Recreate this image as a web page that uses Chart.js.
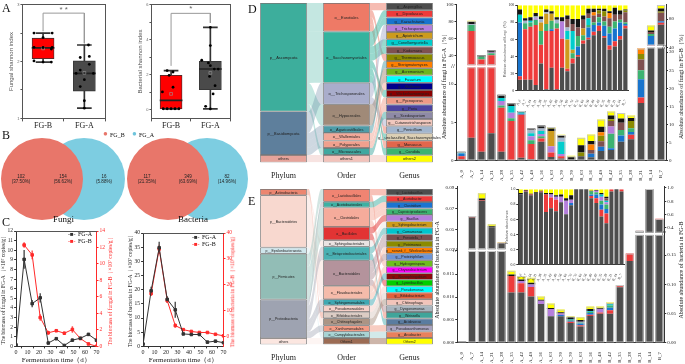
<!DOCTYPE html>
<html><head><meta charset="utf-8">
<script src="https://cdn.jsdelivr.net/npm/chart.js@4.4.1/dist/chart.umd.min.js"></script>
<style>
html,body{margin:0;padding:0;background:#fff;}
body{width:685px;height:364px;position:relative;overflow:hidden;font-family:"Liberation Serif",serif;}
canvas{position:absolute;}
.t{position:absolute;white-space:nowrap;line-height:1;color:#111;}
</style></head><body>
<script>
// ---------------- DATA ----------------
// Panel A
const boxGroups=['FG-B','FG-A'];
const fungalShannon=[[2.50,2.50,2.42,2.25,2.25,2.25,2.22,2.01,1.99,1.99],[2.29,2.09,2.07,1.95,1.85,1.79,1.79,1.68,1.56,1.31,1.18]];
const fungalJitter=[[-0.22,0.22,0,-0.22,0,0.22,0.2,-0.22,0,0.2],[0.1,0.12,-0.1,0.12,-0.1,-0.2,0.22,0,-0.1,0,0]];
const fungalBox=[[1.99,2.05,2.24,2.41,2.50],[1.18,1.48,1.79,2.01,2.29]];
const fungalMean=[2.23,1.80];
const bacterialShannon=[[2.23,2.15,1.96,1.28,1.01,0.05,0.05,0.05,0.05,0.05],[4.70,3.66,2.82,2.67,2.51,2.32,2.32,1.90,1.37,0.90,0.19,0.04]];
const bacterialJitter=[[-0.1,0.05,-0.05,0.05,-0.22,-0.2,-0.1,0,0.1,0.2],[0,0,-0.22,-0.05,0,0.1,0.2,-0.02,0.12,0.07,-0.12,0]];
const bacterialBox=[[0.04,0.04,0.53,1.96,2.23],[0.04,1.14,2.32,2.76,4.70]];
const bacterialMean=[0.9,2.1];
// Panel B
const vennSets=['FG_B','FG_A'];
const fungiVenn=[102,154,16];
const fungiVennPct=['37.50%','56.62%','5.88%'];
const bacteriaVenn=[117,349,82];
const bacteriaVennPct=['21.35%','63.69%','14.96%'];
// Panel C
const days=[0,7,14,21,28,35,42,49,56,63,70];
const daysB=[7,14,21,28,35,42,49,56,63,70];
const fungalFGA=[0.15,9.05,4.45,5.05,0.35,0.8,0.1,0.65,0.85,1.25,0.65];
const fungalFGAErr=[0.05,0.95,0.35,0.45,0.1,0.05,0.05,0.1,0.1,0.1,0.1];
const fungalFGB=[12.3,11.1,3.5,1.65,1.9,1.6,2.05,0.95,0.3,0.02];
const fungalFGBErr=[0.3,0.5,0.35,0.2,0.1,0.15,0.35,0.1,0.05,0.02];
const bacteriaFGA=[0.8,19.6,34.8,16.6,12.9,4.4,4.2,4.2,1.5,1.85,1.3];
const bacteriaFGAErr=[0.2,1.3,2.0,1.0,2.7,0.3,0.3,0.3,0.2,0.2,0.2];
const bacteriaFGB=[16.5,33.8,13.8,4.1,2.5,1.8,1.4,1.4,0.7,0.1];
const bacteriaFGBErr=[0.8,1.5,0.8,0.7,0.2,0.2,0.2,0.1,0.1,0.1];
// Panel D sankey
const fungiPhyla=['p__Ascomycota','p__Basidiomycota','others'];
const fungiPhylaSize=[338,136,23];
const fungiPhylaColors=['#3DAE9C','#5E7F9C','#E6A39A'];
const fungiOrders=['o__Eurotiales','o__Saccharomycetales','o__Trichosporonales','o__Hypocreales','o__Agaricostilbales','o__Wallemiales','o__Polyporales','o__Microascales','others1'];
const fungiOrderSize=[89,160,67,66,23,24,23,22,23];
const fungiOrderParent=[0,0,1,0,1,1,1,0,2];
const fungiOrderColors=['#EE7A66','#34B39E','#A9ADCB','#A08A78','#4E9CA8','#F2A898','#F0A08E','#3FA8A0','#F2C2BA'];
const fungiGenera=['g__Aspergillus','g__Dipodascus','g__Kazachstania','g__Trichosporon','g__Apiotrichum','g__Conellomycetella','g__Kodamaea','g__Thermoascus','g__Sterigmatomyces','g__Acremonium','g__Fusarium','g__Wallemia','g__Wickerhamomyces','g__Pycnoporus','g__Poria','g__Scedosporium','g__Cutaneotrichosporon','g__Penicillium','g__unclassified_Saccharomycetales','g__Monascus','g__Candida','others2'];
const fungiGenusSize=[1,1,1,1,1,1,1,1,1,1,1,1,1,1,1,1,1,1,1,1,1,1];
const fungiGenusParent=[0,1,1,2,2,1,1,0,4,3,3,5,1,6,6,7,2,0,1,0,1,8];
const fungiGenusColors=['#4D4D4D','#EE3B3B','#1874CD','#B57EDC','#CD9B1D','#00CDCD','#7F5050','#8B8B00','#FF7F00','#6EB41E','#00FFFF','#00008B','#8B0000','#EE9A86','#4A44A0','#8E8AA6','#F2C8BE','#A2B5CD','#DCCFB4','#E2664C','#3CB371','#FFFF00'];
// Panel D bars (absolute abundance, %)
const sampleLabels=['A_0','A_7','A_14','A_21','A_28','A_35','A_42','A_49','A_56','A_63','A_70','B_70','B_63','B_56','B_49','B_42','B_35','B_28','B_21','B_14','B_7'];
const fungiBarColors=['#4D4D4D','#EE3B3B','#1874CD','#3CB371','#B57EDC','#CD9B1D','#00CDCD','#A2B5CD','#7F5050','#8B8B00','#FF7F00','#141414','#FFFF00'];
const fAspergillus=[0.2,3,1.2,3.6,1.2,0.1,0.4,0.2,2.5,0.5,0.3, 0.5,1.3,1,2.7,3,5.3,6,16,41,72];
const fDipodascus=[0.4,66,33.8,36.4,5.7,5.1,5.6,2.0,0.4,0.6,0.3, 0,0,0,0,0,0,1.2,1.5,2,3];
const fKazachstania=[0.35,0,0,0,0,0,0.15,0,0,0,0, 0,0,1,1.2,0.5,1.7,0.8,5,13,2];
const fCandida=[0,7,3.5,2.5,0.3,0.35,0,0.5,0.3,0,0, 0,0,0,0,4,1.5,1,2.5,3,0];
const fTrichosporon=[0,0,0,1,0.6,0.7,0,0.5,0.3,0.8,0.3, 0,0,0,0,2,0,0,0,0,0];
const fApiotrichum=[0,0,0,0,0,0,0,0,0,2.0,0, 0,0,0,0,0,0,0,0,0,0];
const fConellomycetella=[0.1,0,0,0,0.4,0.9,0.15,0.4,0.4,0,1.6, 0,0,0,0,0,0,0,0,0,0];
const fPenicillium=[0,1,0,0,0,0,0,0.4,0.3,0,0.5, 0,0,0,0,0,0,0,0,0,0];
const fKodamaea=[0,0,0,0,0,0,0,0,0,0,0, 0,0,1,1.5,1.5,2,0,3,3,12];
const fThermoascus=[0,0,0,0,0,0,0,0,0,0,0, 0,1,0,1.5,0.5,0,2,1.5,0,2];
const fSterigmatomyces=[0,0,0,0,0,0,0,0,0,0,0, 0,0,1.5,1,0,0,0,1.5,0,0];
const fDark=[0.15,3,1.5,2.5,0.4,0.35,0.2,0.2,0.4,0.3,0.3, 0.5,2,1,1.5,1,1.2,0.8,0,2,4];
const fOthers2=[0,1,0,0,0,0,0,0,0,0.2,0.1, 0.4,2.1,1.8,2,1.1,1.5,0.7,0,7,5];
const fungiLeftLoTicks=[0,5,10], fungiLeftHiTicks=[40,60,80,100];
const fungiRightLoTicks=[0,5,10,15,20,25,30], fungiRightHiTicks=[40,60,80,100];
// Panel D inset (relative abundance, %)
const riGray=[13,13,13,7,32,2,27,2,27,23,32, 40,55,60,65,70,62,48,52,60,73];
const riRed=[4,59,62,70,22,68,43,71,34,3,6, 2,4,2,4,6,2,5,6,4,3];
const riBlue=[63,0,0,0,0,0,2,0,0,0,0, 10,0,12,8,4,12,14,15,16,2];
const riGreen=[0,7,5,6,16,8,10,6,0,0,6, 12,6,3,3,6,5,8,8,3,2];
const riPurple=[0,0,0,2,0,0,0,0,20,0,0, 0,0,0,0,0,0,0,0,0,0];
const riGold=[0,0,0,0,10,12,8,0,0,34,4, 0,8,0,0,0,0,0,0,0,0];
const riCyan=[9,0,2,0,0,0,0,0,0,10,22, 0,0,8,0,0,0,0,0,0,0];
const riSteel=[0,3,0,2,4,2,0,4,0,4,0, 0,0,0,0,0,0,0,0,0,0];
const riBrown=[0,0,0,0,0,0,0,0,0,10,8, 10,10,5,8,4,6,10,8,6,12];
const riOlive=[0,0,0,0,0,0,0,0,0,0,0, 0,0,0,0,4,6,0,0,0,2];
const riOrange=[0,0,0,0,0,0,0,0,0,0,0, 0,0,0,4,0,0,6,0,0,0];
const riDark=[6,3,4,4,3,3,3,3,5,4,6, 10,5,6,4,2,3,2,8,5,1];
const riYellow=[5,15,14,9,13,5,7,14,14,12,16, 16,12,4,4,4,4,7,3,6,5];
// Panel E sankey
const bacPhyla=['p__Actinobacteria','p__Bacteroidetes','p__Epsilonbacteraeota','p__Firmicutes','p__Proteobacteria','others'];
const bacPhylaSize=[20,165,20,145,122,20];
const bacPhylaColors=['#EC8670','#F8D8CF','#CFE6EC','#92BDB6','#9EA3B1','#FBE6E0'];
const bacOrders=['o__Lactobacillales','o__Acetobacterales','o__Clostridiales','o__Bacillales','o__Sphingobacteriales','o__Betaproteobacteriales','o__Bacteroidales','o__Flavobacteriales','o__Sphingomonadales','o__Pseudomonadales','o__Bifidobacteriales','o__Chitinophagales','o__Xanthomonadales','o__Campylobacterales','Others1'];
const bacOrderSize=[40,18,61,42,20,43,80,42,20,20,20,22,20,20,20];
const bacOrderParent=[3,4,3,3,1,4,1,1,4,4,0,1,4,2,5];
const bacOrderColors=['#F08472','#3DB0A2','#F5AB9B','#E23434','#EAE3E2','#49B0B2','#B4939C','#F5BBAA','#3FA8B2','#F6D0C8','#DCCCC4','#AC9484','#F29C86','#A6D3D3','#9C6C54'];
const bacGenera=['g__Lactobacillus','g__Acetobacter','g__Clostridium','g__Caproiciproducens','g__Bacillus','g__Sphingobacterium','g__Comamonas','g__Prevotella_7','g__Petrimonas','g__norank_f__Weeksellaceae','g__Proteiniphilum','g__Hydrogenispora','g__Chryseobacterium','g__Novosphingobium','g__Lysinibacillus','g__Pseudomonas','g__Bifidobacterium','g__Chitinophaga','g__Dysgonomonas','g__Weissella','g__Acidovorax','g__Pseudoxanthomonas','g__Arcobacter','Others2'];
const bacGenusSize=[1,1,1,1,1,1,1,1,1,1,1,1,1,1,1,1,1,1,1,1,1,1,1,1];
const bacGenusParent=[0,1,2,2,3,4,5,6,6,7,6,2,7,8,3,9,10,11,6,0,5,12,13,14];
const bacGenusColors=['#4D4D4D','#EE3B3B','#1C74D0','#3CB371','#B57EDC','#CD9B1D','#00C5CD','#7B4F4F','#8B8B00','#FF7F00','#6B93D6','#6EBE1E','#FF00FF','#8B0A0A','#00CD00','#00FFFF','#E0603C','#F2C4BA','#A8B4BE','#3FA59A','#5A7CA0','#A9A3C0','#E9805C','#FFFF00'];
// Panel E bars (absolute abundance)
const bacBarColors=['#4D4D4D','#EE3B3B','#1C74D0','#3CB371','#B57EDC','#00C5CD','#7B4F4F','#141414','#FFFF00'];
const bLactobacillus=[0.0003,0.0615,0.0775,0.052,0.0365,0.011,0.011,0.0101,0.0085,0.0058,0.0058, 0.034,0.028,0.046,0.05,0.05,0.095,0.14,0.345,0.975,0.52];
const bAcetobacter=[0,0.0005,0.0005,0,0.0005,0.0036,0.002,0.0021,0,0,0, 0.002,0.002,0.002,0.002,0.006,0.002,0.013,0,0,0.015];
const bClostridium=[0,0,0,0,0,0,0,0,0,0,0.0003, 0.002,0.003,0.003,0,0.004,0,0,0,0,0];
const bCaproiciproducens=[0,0,0,0,0,0,0,0,0,0,0, 0.001,0.002,0.002,0,0.004,0,0,0,0,0];
const bBacillus=[0,0,0,0,0,0,0.0005,0.0005,0.0007,0.0016,0.0003, 0,0.001,0,0.006,0,0,0,0,0,0];
const bComamonas=[0,0,0,0,0,0,0,0,0,0,0, 0.001,0,0.001,0,0.002,0,0,0,0,0];
const bPrevotella=[0,0,0,0,0,0,0,0,0,0,0, 0,0,0,0,0,0,0,0.01,0.005,0];
const bDark=[0,0.001,0.002,0.001,0,0.0003,0.0003,0.0004,0.0002,0.0002,0.0003, 0.004,0.003,0.004,0.001,0.001,0.001,0,0,0.005,0];
const bOthers2=[0,0,0.005,0.002,0.0006,0.0008,0.0008,0.0011,0.0007,0.001,0.0006, 0.0015,0.005,0.004,0.003,0.002,0.001,0,0,0,0];
const bacLeftLoTicks=[0,0.005,0.010,0.015], bacLeftHiTicks=[0.03,0.04,0.05,0.06,0.07,0.08,0.09];
const bacRightLoTicks=[0,0.05,0.10,0.15], bacRightHiTicks=[0.4,0.6,0.8,1.0];
// Panel E inset (relative abundance)
const rbGray=[0.93,0.97,0.92,0.95,0.96,0.70,0.75,0.71,0.83,0.67,0.79, 0.99,0.99,0.99,0.88,0.82,0.64,0.55,0.97,0.99,0.97];
const rbRed=[0,0.01,0.01,0,0.01,0.23,0.14,0.15,0,0,0, 0,0,0,0.03,0.06,0.09,0.13,0.03,0,0.03];
const rbBlue=[0,0,0,0,0,0,0,0,0,0,0.03, 0,0,0,0.02,0.05,0.07,0.06,0,0,0];
const rbGreen=[0,0,0,0,0,0,0,0,0,0,0, 0,0,0,0.04,0.03,0.05,0.06,0,0,0];
const rbPurple=[0,0,0,0,0,0,0.04,0.04,0.07,0.18,0.04, 0,0,0,0,0.02,0.05,0.03,0,0,0];
const rbCyan=[0,0,0,0,0,0,0,0,0,0,0, 0,0,0,0,0,0.03,0.02,0,0,0];
const rbBrown=[0,0,0,0,0,0,0,0,0,0,0, 0,0,0,0,0,0,0.03,0,0,0];
const rbDark=[0.02,0.01,0.01,0.01,0.01,0.02,0.02,0.02,0.03,0.03,0.06, 0.01,0.01,0.01,0.01,0.01,0.02,0.02,0,0.01,0];
const rbYellow=[0.05,0.01,0.06,0.04,0.02,0.05,0.05,0.08,0.07,0.12,0.08, 0,0,0,0.02,0.01,0.05,0.10,0,0,0];

// ---------------- HELPERS ----------------
Chart.defaults.animation=false;
Chart.defaults.responsive=false;
Chart.defaults.maintainAspectRatio=false;
Chart.defaults.font.family='Liberation Sans';
Chart.defaults.color='#222';
Chart.defaults.plugins.legend.display=false;
Chart.defaults.plugins.tooltip.enabled=false;
Chart.defaults.events=[];

function mk(l,t,w,h,bg){const c=document.createElement('canvas');c.width=w;c.height=h;Object.assign(c.style,{left:l+'px',top:t+'px',width:w+'px',height:h+'px'});if(bg)c.style.background=bg;document.body.appendChild(c);return c.getContext('2d');}
function txt(s,l,t,css){const d=document.createElement('div');d.className='t';d.textContent=s;d.style.left=l+'px';d.style.top=t+'px';if(css)d.style.cssText+=css;document.body.appendChild(d);return d;}
function rtxt(s,cx,cy,css){const d=txt(s,cx,cy,css);d.style.transform='translate(-50%,-50%) rotate(-90deg)';return d;}
function annot(list){return {id:'annot',afterDatasetsDraw(chart){const c=chart.ctx;list.forEach(a=>{const xs=chart.scales[a.xs||'x'],ys=chart.scales[a.ys||'y'];c.save();c.font=a.font;c.fillStyle=a.color||'#222';c.textAlign='center';c.textBaseline='middle';const lines=a.text.split('\n');const px=xs.getPixelForValue(a.x),py=ys.getPixelForValue(a.y);lines.forEach((ln,i)=>c.fillText(ln,px,py+(i-(lines.length-1)/2)*a.lh));c.restore();});}};}
const barLabels={id:'barLabels',afterDatasetsDraw(chart){const c=chart.ctx;chart.data.datasets.forEach((ds,i)=>{if(!ds.barLabels)return;const meta=chart.getDatasetMeta(i);meta.data.forEach((el,j)=>{const t=ds.barLabels[j];if(!t)return;c.save();c.font=ds.labelFont;c.fillStyle='#222';c.textAlign='center';c.textBaseline='middle';c.fillText(t,el.x,(el.y+el.base)/2+0.5);c.restore();});});}};
function fixedTicks(vals){return s=>{s.ticks=vals.map(v=>({value:v}));};}
const frameX={type:'linear',position:'top',display:true,ticks:{display:false},grid:{display:false},border:{display:true,color:'#555'},afterFit:s=>{s.height=0;}};
const frameY={type:'linear',position:'right',display:true,ticks:{display:false},grid:{display:false},border:{display:true,color:'#555'},afterFit:s=>{s.width=0;}};

// ---------------- PANEL A ----------------
function boxChart(ctx,vals,jit,box,mean,yr,yTicks,yLab,title,sig,pad){
  const pts=[];vals.forEach((g,gi)=>g.forEach((v,k)=>pts.push({x:gi+jit[gi][k],y:v})));
  const h=(yr[1]-yr[0])*0.0045; // half thickness of cap/median strokes, in value units
  return new Chart(ctx,{type:'bar',data:{datasets:[
    {type:'line',data:[{x:0,y:sig.l},{x:0,y:sig.top},{x:1,y:sig.top},{x:1,y:sig.r}],borderColor:'#999',borderWidth:1,pointRadius:0,order:7},
    {data:box.map((b,i)=>({x:i,y:[b[0],b[4]]})),backgroundColor:'#333',barThickness:1,grouped:false,order:6},
    {data:box.map((b,i)=>({x:i,y:[b[1],b[3]]})),backgroundColor:['#FF0000','#4A4A4A'],borderColor:'#333',borderWidth:0.8,borderSkipped:false,barThickness:22,grouped:false,order:5},
    {data:box.flatMap((b,i)=>[{x:i,y:[b[0]-h,b[0]+h]},{x:i,y:[b[4]-h,b[4]+h]}]),backgroundColor:'#333',barThickness:14,grouped:false,order:4},
    {data:box.map((b,i)=>({x:i,y:[b[2]-h,b[2]+h]})),backgroundColor:'#222',barThickness:22,grouped:false,order:3},
    {type:'scatter',data:mean.map((m,i)=>({x:i,y:m})),pointStyle:'rect',pointRadius:2,borderColor:'#999',backgroundColor:'rgba(0,0,0,0)',borderWidth:0.6,order:2},
    {type:'scatter',data:pts,pointRadius:1.4,backgroundColor:'#000',borderWidth:0,order:1}
  ]},options:{layout:{padding:pad},scales:{
    x:{type:'linear',offset:false,min:-0.5,max:1.5,afterBuildTicks:fixedTicks([0,1]),ticks:{callback:v=>boxGroups[v],font:{family:'Liberation Serif',size:8},color:'#222',padding:0},grid:{display:true,drawOnChartArea:false,tickLength:3,color:'#555'},border:{color:'#555'}},
    y:{min:yr[0],max:yr[1],afterBuildTicks:fixedTicks(yTicks),ticks:{font:{size:4},color:'#666',padding:1,callback:v=>yLab.includes(v)?String(v):''},grid:{drawOnChartArea:false,tickLength:2,color:'#555'},border:{color:'#555'},title:{display:true,text:title,font:{size:6},color:'#555',padding:1}},
    x2:frameX,y2:frameY
  }},plugins:[annot([{x:0.5,y:sig.ty,text:sig.text,font:'8px Liberation Sans',color:'#666',lh:0}])]});
}
boxChart(mk(0,0,115,131),fungalShannon,fungalJitter,fungalBox,fungalMean,[1,3],[1,1.5,2,2.5,3],[1,2,3],'Fungal shannon index',{l:2.53,top:2.85,r:2.32,ty:2.91,text:'* *'},{left:7,right:10,top:3,bottom:0});
boxChart(mk(115,0,120,131),bacterialShannon,bacterialJitter,bacterialBox,bacterialMean,[-0.5,6],[0,1,2,3,4,5,6],[0,2,4,6],'Bacterial shannon index',{l:2.5,top:5.5,r:4.95,ty:5.75,text:'*'},{left:21,right:5,top:3,bottom:0});

// ---------------- PANEL B ----------------
(function(){
  const R=41; // bubble radius in px; canvas enlarged by R so the chart area is the intended 250x100 box
  const ctx=mk(-R,128-R,250+2*R,100+2*R);
  const red='rgb(232,118,106)',blue='rgba(26,167,202,0.57)';
  const lab=(n,p)=>n+'\n('+p+')';
  new Chart(ctx,{type:'bubble',data:{datasets:[
    {data:[{x:42,y:51,r:R},{x:168,y:51,r:R}],backgroundColor:red,borderWidth:0},
    {data:[{x:84,y:51,r:R},{x:207,y:51,r:R}],backgroundColor:blue,borderWidth:0}
  ]},options:{layout:{padding:0},scales:{x:{display:false,min:0,max:250},y:{display:false,min:0,max:100,reverse:true}}},
  plugins:[annot([
    {x:21,y:51,text:lab(fungiVenn[0],fungiVennPct[0]),font:'4.5px Liberation Sans',lh:5},
    {x:63,y:51,text:lab(fungiVenn[1],fungiVennPct[1]),font:'4.5px Liberation Sans',lh:5},
    {x:104,y:51,text:lab(fungiVenn[2],fungiVennPct[2]),font:'4.5px Liberation Sans',lh:5},
    {x:147,y:51,text:lab(bacteriaVenn[0],bacteriaVennPct[0]),font:'4.5px Liberation Sans',lh:5},
    {x:188,y:51,text:lab(bacteriaVenn[1],bacteriaVennPct[1]),font:'4.5px Liberation Sans',lh:5},
    {x:227,y:51,text:lab(bacteriaVenn[2],bacteriaVennPct[2]),font:'4.5px Liberation Sans',lh:5}
  ])]});
  txt('Fungi',53,215,'font-size:9px;');
  txt('Bacteria',178,215,'font-size:9px;');
  txt('●',103,130,'font-size:8px;color:rgb(232,118,106);');
  txt(vennSets[0],110,132,'font-size:6px;');
  txt('●',132,130,'font-size:8px;color:rgb(110,196,220);');
  txt(vennSets[1],139,132,'font-size:6px;');
})();

// ---------------- PANEL C ----------------
function lineChart(ctx,a,aErr,b,bErr,yA,yAt,yB,yBt,title,pad){
  const ptsA=days.map((d,i)=>({x:d,y:a[i]})),ptsB=daysB.map((d,i)=>({x:d,y:b[i]}));
  return new Chart(ctx,{type:'line',data:{datasets:[
    {label:'FG-A',data:ptsA,borderColor:'#333',backgroundColor:'#333',pointStyle:'rect',pointRadius:1.8,borderWidth:1,yAxisID:'y',order:1},
    {label:'FG-B',data:ptsB,borderColor:'#FF2A2A',backgroundColor:'#FF2A2A',pointStyle:'rect',pointRadius:1.8,borderWidth:1,yAxisID:'y2',order:2},
    {type:'bar',data:days.map((d,i)=>({x:d,y:[a[i]-aErr[i],a[i]+aErr[i]]})),backgroundColor:'#555',barThickness:0.8,grouped:false,yAxisID:'y',order:3},
    {type:'bar',data:daysB.map((d,i)=>({x:d,y:[b[i]-bErr[i],b[i]+bErr[i]]})),backgroundColor:'#FF5555',barThickness:0.8,grouped:false,yAxisID:'y2',order:4}
  ]},options:{layout:{padding:pad},scales:{
    x:{type:'linear',offset:false,min:0,max:70,ticks:{stepSize:10,font:{family:'Liberation Serif',size:6},padding:0,maxRotation:0},grid:{drawOnChartArea:false,tickLength:2,color:'#333'},border:{color:'#333'},title:{display:true,text:'Fermentation time（d）',font:{family:'Liberation Serif',size:7},padding:0}},
    y:{min:yA[0],max:yA[1],afterBuildTicks:fixedTicks(yAt),ticks:{font:{family:'Liberation Serif',size:5.5},padding:1},grid:{drawOnChartArea:false,tickLength:2,color:'#333'},border:{color:'#333'},title:{display:true,text:title,font:{family:'Liberation Serif',size:5.5},padding:0}},
    y2:{position:'right',min:yB[0],max:yB[1],afterBuildTicks:fixedTicks(yBt),ticks:{font:{family:'Liberation Serif',size:5.5},color:'#FF2A2A',padding:1},grid:{drawOnChartArea:false,tickLength:2,color:'#FF2A2A'},border:{color:'#FF2A2A'}},
    x2:frameX
  }}});
}
lineChart(mk(0,226,117,138),fungalFGA,fungalFGAErr,fungalFGB,fungalFGBErr,[0,12],[0,1,2,3,4,5,6,7,8,9,10,11,12],[0,14],[0,2,4,6,8,10,12,14],'The biomass of fungal in FG-A（×10⁷ copies/g）',{left:0,right:11,top:4,bottom:0});
rtxt('The biomass of fungal in FG-B（×10⁷ copies/g）',111,290,'font-size:5.5px;color:#FF2A2A;');
lineChart(mk(117,226,120,138),bacteriaFGA,bacteriaFGAErr,bacteriaFGB,bacteriaFGBErr,[0,40],[0,5,10,15,20,25,30,35,40],[-4,40],[0,10,20,30,40],'The biomass of bacteria in FG-A（×10⁷ copies/g）',{left:10,right:4,top:7,bottom:0});
rtxt('The biomass of bacteria in FG-B（×10⁷ copies/g）',233,290,'font-size:5.5px;color:#FF2A2A;');
function legendC(x,y){
  txt('-■-',x,y,'font-size:6px;color:#333;');txt('FG-A',x+10,y,'font-size:6px;');
  txt('-■-',x,y+7,'font-size:6px;color:#FF2A2A;');txt('FG-B',x+10,y+7,'font-size:6px;');
}
legendC(68,231);legendC(192,234);

// ---------------- SANKEY ----------------
function hexA(col,a){const c=col.replace('#','');return 'rgba('+parseInt(c.substr(0,2),16)+','+parseInt(c.substr(2,2),16)+','+parseInt(c.substr(4,2),16)+','+a+')';}
function sankey(ctx,cols,parents,linkAlpha,labelFont){
  const norm=cols.map(c=>{const s=c.sizes.reduce((a,b)=>a+b,0);return c.sizes.map(v=>v/s);});
  const spans=norm.map(n=>{let a=0;return n.map(v=>{const r=[a,a+v];a+=v;return r;});});
  const barPct=0.74,hw=barPct/2,e=0.03;const ds=[];
  parents.forEach((par,k)=>{
    const sc=k,tc=k+1;
    const links=par.map((p,j)=>({s:p,t:j,w:norm[tc][j]}));
    cols[sc].sizes.forEach((_,i)=>{
      const out=links.filter(l=>l.s===i).sort((a,b)=>a.t-b.t);
      const tot=out.reduce((a,l)=>a+l.w,0);let y=spans[sc][i][0];const h=spans[sc][i][1]-y;
      out.forEach(l=>{const d=h*l.w/tot;l.s0=y;l.s1=y+d;y+=d;});
    });
    const xa=sc+0.5+hw,xb=tc+0.5-hw;
    links.forEach(l=>{
      const t0=spans[tc][l.t][0],t1=spans[tc][l.t][1];
      ds.push({type:'line',data:[{x:xa,y:l.s0},{x:xa+e,y:l.s0},{x:xb-e,y:t0},{x:xb,y:t0}],borderWidth:0,pointRadius:0,cubicInterpolationMode:'monotone',fill:false,order:10});
      ds.push({type:'line',data:[{x:xa,y:l.s1},{x:xa+e,y:l.s1},{x:xb-e,y:t1},{x:xb,y:t1}],borderWidth:0,pointRadius:0,cubicInterpolationMode:'monotone',fill:'-1',backgroundColor:hexA(cols[sc].colors[l.s],linkAlpha[k]),order:10});
    });
  });
  cols.forEach((c,ci)=>{
    ds.push({type:'bar',data:spans[ci].map(s=>({x:ci+0.5,y:s})),backgroundColor:c.colors,borderColor:'#4a4a4a',borderWidth:0.7,borderSkipped:false,grouped:false,barPercentage:barPct,categoryPercentage:1,order:0,barLabels:c.names,labelFont:labelFont});
  });
  return new Chart(ctx,{type:'bar',data:{datasets:ds},options:{layout:{padding:{left:2,right:1,top:3,bottom:0}},scales:{
    x:{type:'linear',offset:false,min:0,max:3,afterBuildTicks:fixedTicks([0.5,1.5,2.5]),ticks:{callback:v=>['Phylum','Order','Genus'][Math.floor(v)],font:{family:'Liberation Serif',size:8},color:'#222',padding:1},grid:{display:false},border:{display:false}},
    y:{min:0,max:1,reverse:true,display:false}
  }},plugins:[barLabels]});
}
sankey(mk(250,0,192,182),[
  {names:fungiPhyla,sizes:fungiPhylaSize,colors:fungiPhylaColors},
  {names:fungiOrders,sizes:fungiOrderSize,colors:fungiOrderColors},
  {names:fungiGenera,sizes:fungiGenusSize,colors:fungiGenusColors}],[fungiOrderParent,fungiGenusParent],[0.3,0.5],'3.9px Liberation Sans');
sankey(mk(250,186,192,178),[
  {names:bacPhyla,sizes:bacPhylaSize,colors:bacPhylaColors},
  {names:bacOrders,sizes:bacOrderSize,colors:bacOrderColors},
  {names:bacGenera,sizes:bacGenusSize,colors:bacGenusColors}],[bacOrderParent,bacGenusParent],[0.4,0.5],'3.5px Liberation Sans');

// ---------------- BROKEN-AXIS STACKED BARS ----------------
function brokenBars(ctx,series,colors,nA,sc,pad,fmt){
  const n=sampleLabels.length;const cum=new Array(n).fill(0);const ds=[];
  const parts=[['yAlo','A'],['yAhi','A'],['yBlo','B'],['yBhi','B']];
  function clip(c0,c1,id){const r=sc[id];if(c1<=c0)return null;if(id.endsWith('lo')){if(c0>=r[1])return null;return [c0,Math.min(c1,r[1])];}const lo=r[0]+sc.gap[id];if(c1<=lo)return null;return [Math.max(c0,lo),Math.min(c1,r[1])];}
  series.forEach((s,si)=>{
    const c0=cum.slice();s.forEach((v,i)=>cum[i]+=v);
    parts.forEach(([id,side])=>{
      ds.push({data:s.map((v,i)=>((side==='A')===(i<nA))?clip(c0[i],cum[i],id):null),yAxisID:id,backgroundColor:colors[si],borderWidth:0,grouped:false,barPercentage:0.82,categoryPercentage:1,order:5});
    });
  });
  parts.forEach(([id,side])=>{
    ds.push({data:cum.map((v,i)=>((side==='A')===(i<nA))?clip(0,v,id):null),yAxisID:id,backgroundColor:'rgba(0,0,0,0)',borderColor:'#C8C8C8',borderWidth:1,borderSkipped:false,grouped:false,barPercentage:0.82,categoryPercentage:1,order:1});
  });
  const yax=(id,pos,st,w,ticks)=>{const t={font:{family:'Liberation Serif',size:5},padding:1};if(fmt[id])t.callback=fmt[id];return {position:pos,stack:st,stackWeight:w,min:sc[id][0],max:sc[id][1],afterBuildTicks:fixedTicks(ticks),ticks:t,grid:{drawOnChartArea:false,tickLength:2,color:'#333'},border:{color:'#333'}};};
  return new Chart(ctx,{type:'bar',data:{labels:sampleLabels,datasets:ds},options:{layout:{padding:pad},scales:{
    x:{type:'category',offset:true,ticks:{autoSkip:false,minRotation:90,maxRotation:90,font:{family:'Liberation Serif',size:5},padding:1},grid:{display:false},border:{color:'#333'}},
    yAlo:yax('yAlo','left','L',sc.wA[0],sc.tA[0]),
    yAhi:yax('yAhi','left','L',sc.wA[1],sc.tA[1]),
    yBhi:yax('yBhi','right','R',sc.wB[1],sc.tB[1]),
    yBlo:yax('yBlo','right','R',sc.wB[0],sc.tB[0])
  }}});
}
function stackedInset(ctx,series,colors,yMax,yTicks,title,pad,fmt){
  const t={font:{family:'Liberation Serif',size:3.8},padding:1};if(fmt)t.callback=fmt;
  return new Chart(ctx,{type:'bar',data:{labels:sampleLabels,datasets:series.map((s,i)=>({data:s,backgroundColor:colors[i],borderWidth:0,barPercentage:0.8,categoryPercentage:1}))},
  options:{layout:{padding:pad},scales:{
    x:{stacked:true,ticks:{autoSkip:false,minRotation:65,maxRotation:65,font:{family:'Liberation Serif',size:3.6},padding:0},grid:{display:false},border:{color:'#333'}},
    y:{stacked:true,min:0,max:yMax,afterBuildTicks:fixedTicks(yTicks),ticks:t,grid:{drawOnChartArea:false,tickLength:2,color:'#333'},border:{color:'#333'},title:{display:true,text:title,font:{size:3.8},color:'#555',padding:0}}
  }}});
}
// D
brokenBars(mk(440,0,245,182),[fAspergillus,fDipodascus,fKazachstania,fCandida,fTrichosporon,fApiotrichum,fConellomycetella,fPenicillium,fKodamaea,fThermoascus,fSterigmatomyces,fDark,fOthers2],fungiBarColors,11,
  {yAlo:[0,12.2],yAhi:[26,101],yBlo:[0,31.3],yBhi:[40,101.5],gap:{yAhi:2.3,yBhi:2.8},wA:[95,64],wB:[115,44],tA:[fungiLeftLoTicks,fungiLeftHiTicks],tB:[fungiRightLoTicks,fungiRightHiTicks]},
  {left:5,right:10,top:3,bottom:0},{});
rtxt('Absolute abundance of fungi in FG-A（%）',444,85,'font-size:6px;');
rtxt('Absolute abundance of fungi in FG-B（%）',681,85,'font-size:6px;');
stackedInset(mk(501,2,129,106),[riGray,riRed,riBlue,riGreen,riPurple,riGold,riCyan,riSteel,riBrown,riOlive,riOrange,riDark,riYellow],['#4D4D4D','#EE3B3B','#1874CD','#3CB371','#B57EDC','#CD9B1D','#00CDCD','#A2B5CD','#7F5050','#8B8B00','#FF7F00','#141414','#FFFF00'],100,[0,20,40,60,80,100],'Relative abundance of fungi（%）',{left:2,right:2,top:2,bottom:0},null);
// E
const f3=v=>v.toFixed(3),f2=v=>v.toFixed(2),f1=v=>v.toFixed(1);
brokenBars(mk(440,182,245,182),[bLactobacillus,bAcetobacter,bClostridium,bCaproiciproducens,bBacillus,bComamonas,bPrevotella,bDark,bOthers2],bacBarColors,11,
  {yAlo:[0,0.020],yAhi:[0.029,0.092],yBlo:[0,0.185],yBhi:[0.295,1.03],gap:{yAhi:0.0019,yBhi:0.03},wA:[93,66],wB:[109,49],tA:[bacLeftLoTicks,bacLeftHiTicks],tB:[bacRightLoTicks,bacRightHiTicks]},
  {left:2,right:8,top:4,bottom:0},{yAlo:f3,yAhi:f2,yBlo:f2,yBhi:f1});
rtxt('Absolute abundance of bacteria in FG-A',437,270,'font-size:6px;');
rtxt('Absolute abundance of bacteria in FG-B',681,270,'font-size:6px;');
stackedInset(mk(503,186,123,96),[rbGray,rbRed,rbBlue,rbGreen,rbPurple,rbCyan,rbBrown,rbDark,rbYellow],['#4D4D4D','#EE3B3B','#1C74D0','#3CB371','#B57EDC','#00C5CD','#7B4F4F','#141414','#FFFF00'],1,[0,0.2,0.4,0.6,0.8,1.0],'Relative abundance',{left:2,right:2,top:2,bottom:0},f1);
// axis-break marks
txt('//',451,63,'font-size:7px;');txt('//',662,44,'font-size:7px;');
txt('//',453,247,'font-size:7px;');txt('//',662,230,'font-size:7px;');

// Panel letters
txt('A',2,2,'font-size:12px;');
txt('B',2,129,'font-size:12px;');
txt('C',2,216,'font-size:12px;');
txt('D',248,3,'font-size:12px;');
txt('E',248,195,'font-size:12px;');
</script>
</body></html>
